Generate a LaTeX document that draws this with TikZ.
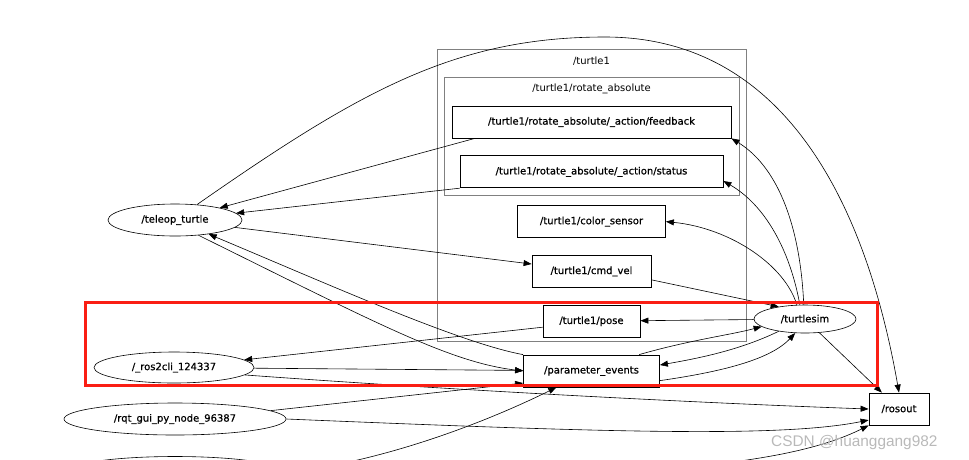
\documentclass[tikz,border=0pt]{standalone}
\usepackage{fontspec}
\setmainfont{DejaVu Sans}
\newfontfamily\lblfont{DejaVu Sans}[FakeBold=0.7]
\newfontfamily\markfont{Liberation Sans}
\usepackage{tikz}
\usetikzlibrary{shapes.geometric,arrows.meta,positioning}
\definecolor{markred}{RGB}{250,30,20}

\begin{document}
\begin{tikzpicture}[
    x=1pt, y=-1pt,
    font=\fontsize{10}{12}\selectfont,
    node distance=17pt,
    topic/.style={rectangle, draw, line width=0.8pt, minimum height=32pt,
        inner sep=0pt, text centered, font=\lblfont\fontsize{10}{12}\selectfont},
    rosnode/.style={ellipse, draw, line width=0.6pt, inner sep=0pt,
        font=\lblfont\fontsize{10}{12}\selectfont},
    cluster/.style={rectangle, draw=gray, line width=1pt, inner sep=0pt},
    arrow/.style={-{Triangle[length=8pt,width=6pt]}, line width=0.6pt}
]
    \useasboundingbox (0,0) rectangle (969,459);
    \clip (0,0) rectangle (969,459);

    % Clusters
    \node[cluster, minimum width=309pt, minimum height=292pt] (grpturtle) at (591.5,195) {};
    \node (grpturtlelbl) at (591.5,61) {/turtle1};
    \node[cluster, minimum width=295pt, minimum height=118pt] (grprotate) at (591.5,136) {};
    \node (grprotatelbl) at (591.5,89) {/turtle1/rotate\_absolute};

    % Topics
    \node[topic, minimum width=279pt] (fb) at (591.5,122) {/turtle1/rotate\_absolute/\_action/feedback};
    \node[topic, minimum width=263pt, below=of fb] (st) {/turtle1/rotate\_absolute/\_action/status};
    \node[topic, minimum width=148pt, below=of st] (cs) {/turtle1/color\_sensor};
    \node[topic, minimum width=119pt, below=of cs] (cv) {/turtle1/cmd\_vel};
    \node[topic, minimum width=97pt, below=of cv] (pose) {/turtle1/pose};
    \node[topic, minimum width=136pt, below=of pose] (pe) {/parameter\_events};
    \node[topic, minimum width=60pt] (ros) at (899,409) {/rosout};

    % Nodes
    \node[rosnode, minimum width=134pt, minimum height=32pt] (tel) at (175,220) {/teleop\_turtle};
    \node[rosnode, minimum width=160pt, minimum height=31pt] (cli) at (174,367.5) {/\_ros2cli\_124337};
    \node[rosnode, minimum width=222pt, minimum height=32pt] (rqt) at (175,419) {/rqt\_gui\_py\_node\_96387};
    \node[rosnode, minimum width=222pt, minimum height=32pt] (hid) at (175,472.5) {};
    \node[rosnode, minimum width=102pt, minimum height=28pt] (ts) at (805,319) {/turtlesim};

    % Arrows
    \coordinate (apex) at (605,37);
    \draw[arrow] (tel.35) .. controls (360,91) and (455,37) .. (apex)
        .. controls (805,37) and (873,244) .. (ros.north);
    \draw[arrow] (fb.188) -- (tel);
    \draw[arrow] (st.south west) -- (tel);
    \draw[arrow] (tel) -- (cv);
    \draw[arrow] (tel.327) .. controls (380,325) and (450,362) .. (pe.west);
    \draw[arrow] (pe.north west) .. controls (460,343) and (330,285) .. (tel);
    \draw[arrow] (pose.187) -- (cli);
    \draw[arrow] (cli) -- (pe);
    \draw[arrow] (cli.354) .. controls (450,390) and (700,403) .. (ros.west);
    \draw[arrow] (rqt.5) -- (pe.190);
    \draw[arrow] (rqt.east) .. controls (600,432) and (780,438) .. (ros.200);
    \draw[arrow] (hid.east) .. controls (380,462) and (480,425) .. (pe.205);
    \draw[arrow] (hid.east) .. controls (600,480) and (780,470) .. (ros.south west);
    \draw[arrow] (ts.95) .. controls (800,220) and (775,165) .. (fb.south east);
    \draw[arrow] (ts.110) .. controls (790,250) and (765,205) .. (st.356);
    \draw[arrow] (ts.120) .. controls (785,265) and (730,228) .. (cs.east);
    \draw[arrow] (cv.352) -- (ts.155);
    \draw[arrow] (ts) -- (pose);
    \draw[arrow] (pe.19) .. controls (690,340) and (730,335) .. (ts.190);
    \draw[arrow] (ts.205) .. controls (740,350) and (700,358) .. (pe.5);
    \draw[arrow] (pe.352) .. controls (720,372) and (770,360) .. (ts.235);
    \draw[arrow] (ts) -- (ros);

    % Highlight and watermark
    \draw[markred, line width=3pt] (85,302) rectangle (877,385);
    \node[anchor=base west, text=gray!55, inner sep=0pt,
        font=\markfont\fontsize{15.4}{18}\selectfont] (mark) at (771,446) {CSDN @huanggang982};
\end{tikzpicture}
\end{document}
